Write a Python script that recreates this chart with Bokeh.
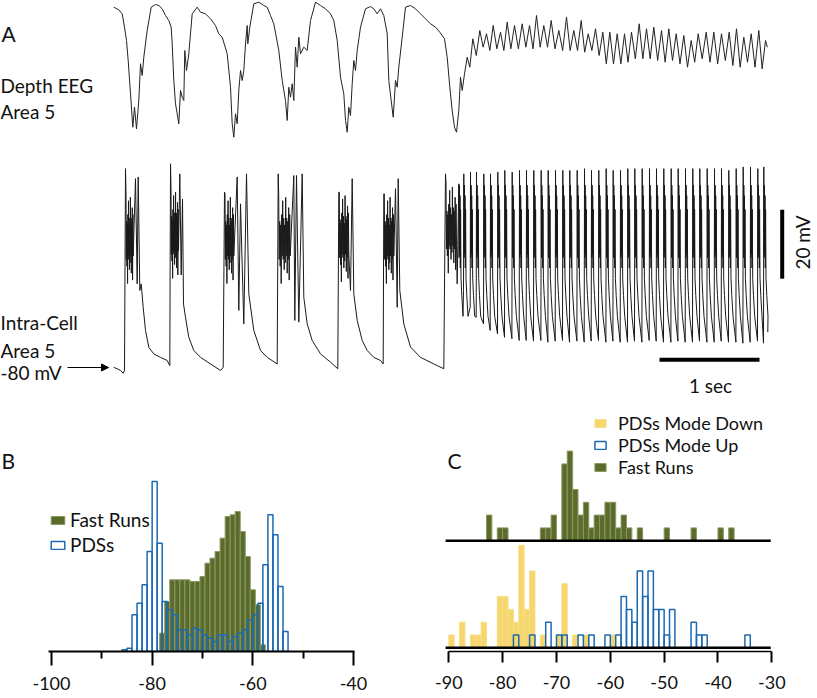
import math
from bokeh.plotting import figure
from bokeh.models import Range1d, Label, Arrow, NormalHead, Legend, LegendItem, FixedTicker
from bokeh.layouts import column, row
from bokeh.embed import file_html
from bokeh.resources import INLINE

FONT = "Lato"
INK = "#111111"
OLIVE = "#5B6B2B"
OLIVE_EDGE = "#8A9862"
GOLD = "#F5D76E"
GOLD_EDGE = "#F7DE88"
BLUE = "#1B6AB4"

# ---------------- Panel A: depth EEG (time in ms, potential in microvolts) ----------------
eeg_t = [3, 53, 87, 110, 130, 147, 170, 193, 210, 230, 253, 270, 287, 303, 337,
         377, 420, 453, 487, 520, 553, 577, 587, 603, 620, 637, 653, 670, 687, 703, 713, 730, 753, 787,
         837, 870, 920, 970, 1020, 1053, 1087, 1137, 1170, 1187, 1203, 1220, 1237, 1253, 1270, 1287, 1303, 1320, 1337, 1343, 1363,
         1403, 1453, 1503, 1537, 1570, 1603, 1653, 1687, 1720, 1737, 1753, 1770, 1787, 1803, 1820, 1837, 1853, 1870, 1903, 1937, 1970,
         2020, 2070, 2120, 2170, 2203, 2237, 2270, 2303, 2320, 2337, 2353, 2370, 2387, 2403, 2420, 2437, 2470,
         2520, 2570, 2603, 2637, 2670, 2703, 2737, 2753, 2777, 2797, 2810, 2820, 2837, 2853, 2887,
         2920, 2970, 3020, 3070, 3120, 3170, 3220, 3263, 3310, 3337, 3363, 3387, 3410, 3430, 3453, 3470, 3487, 3510, 3537, 3563]
eeg_v = [633, 607, 567, 433, 300, 100, -233, -567, -367, -583, -300, 67, -50, 133, 400,
         633, 660, 650, 617, 550, 500, 433, 267, -100, -333, -433, -533, -200, -267, -300, 200, 0, 167, 567,
         633, 583, 567, 517, 450, 367, 333, 167, -167, -533, -667, -433, -533, -200, 0, -100, 0, 267, 450, 267, 433,
         667, 683, 650, 633, 550, 467, 200, -100, -300, -500, -167, -267, -133, -300, 233, 33, 333, 167, 233, 200, 500,
         683, 650, 617, 567, 500, 300, -67, -233, -500, -617, -367, -450, -133, 100, 0, 200, 433,
         617, 640, 617, 567, 617, 550, 367, -100, -300, -467, -267, -100, -167, 33, 333,
         633, 650, 617, 567, 517, 467, 433, 383, 317, 133, -167, -400, -567, -617, -400, -67, -200, -33, 133, 33]
eeg_fast_t = [3593, 3663, 3730, 3797, 3870, 3937, 4010, 4087, 4160, 4230, 4303, 4377, 4453, 4530,
              4603, 4677, 4747, 4820, 4893, 4963, 5037, 5110, 5180, 5257, 5330, 5403, 5480, 5553,
              5627, 5703, 5777, 5847, 5927, 6003, 6080, 6157, 6230, 6303, 6377, 6453, 6520]
eeg_fast_peak = [317, 400, 367, 450, 383, 483, 450, 467, 450, 550, 450, 500, 400, 533,
                 400, 500, 367, 417, 383, 383, 367, 367, 383, 467, 417, 433, 400, 417,
                 367, 350, 300, 367, 383, 383, 367, 383, 417, 333, 367, 400, 300]
eeg_fast_trough = [150, 233, 200, 217, 200, 217, 217, 233, 217, 233, 233, 217, 200, 200,
                   200, 183, 200, 150, 67, 67, 67, 83, 117, 117, 117, 100, 83, 100,
                   67, 33, 83, 117, 83, 67, 100, 50, 33, 83, 33, 17, 233]

# ---------------- Panel A: intracellular membrane potential (ms, mV) ----------------
rest_t = [3, 37, 70, 97, 110]
rest_v = [-78.8, -79.2, -79.7, -80.5, -79.7]
pds_onset = [120, 570, 1110, 1647, 2253, 2703, 3320]
pds_peak = [-21.2, -19.8, -28.0, -22.7, -28.0, -28.5, -22.7]
pds_band_end = [197, 650, 1203, 1767, 2353, 2803, 3430]
pds_band_mid = [-41.5, -40.0, -41.5, -41.5, -41.0, -41.5, -38.5]
band_dev = [13, -6, 5, -8, 4, -13, 7, -5, 11, -6, 6, -9, 4, -7, 12, -5, 6, -10, 5, -6, 9, -12, 7, -5]
pds_tail_t = [
    [220, 237, 247, 263, 277, 297, 320, 353, 403, 470, 537, 563],
    [663, 677, 690, 700, 720, 753, 803, 870, 970, 1070, 1097],
    [1237, 1253, 1270, 1303, 1330, 1353, 1403, 1470, 1537, 1637],
    [1803, 1813, 1830, 1853, 1887, 1903, 1937, 1987, 2070, 2170, 2243],
    [2370, 2387, 2403, 2437, 2487, 2537, 2603, 2670, 2697],
    [2820, 2837, 2847, 2863, 2903, 2970, 3070, 3203, 3303],
    [3437],
]
pds_tail_v = [
    [-24.1, -54.6, -23.6, -56.5, -54.6, -61.4, -68.1, -73.0, -74.9, -75.9, -76.8, -78.3],
    [-22.7, -52.0, -30.0, -60.4, -64.3, -70.1, -73.9, -75.9, -77.8, -79.7, -78.8],
    [-23.6, -62.3, -31.4, -66.2, -22.7, -57.5, -68.1, -73.9, -75.9, -77.8],
    [-23.2, -65.2, -23.2, -65.7, -22.7, -58.5, -66.2, -71.0, -74.9, -77.3, -79.2],
    [-56.5, -24.1, -57.5, -65.2, -71.0, -73.9, -75.9, -76.8, -77.8],
    [-27.0, -61.4, -24.1, -56.5, -66.2, -72.9, -75.9, -77.8, -79.2],
    [-54.6],
]
fast_t = [3453, 3503, 3570, 3630, 3703, 3770, 3843, 3913, 3987, 4060, 4130, 4203, 4277, 4347,
          4420, 4493, 4563, 4637, 4710, 4780, 4853, 4927, 4997, 5070, 5143, 5213, 5287, 5360,
          5430, 5503, 5577, 5647, 5720, 5793, 5863, 5937, 6010, 6080, 6153, 6227, 6297, 6370,
          6443, 6503]
fast_peak = [-25.6, -22.7, -22.2, -22.2, -22.7, -22.7, -22.2, -21.7, -22.2, -21.7, -21.7, -21.7, -21.7, -21.7,
             -21.7, -21.7, -21.7, -21.7, -21.2, -21.7, -21.7, -21.2, -21.7, -21.7, -21.2, -21.2, -21.2, -21.2,
             -21.2, -21.2, -21.2, -21.2, -21.2, -21.2, -21.2, -21.2, -21.2, -21.2, -21.7, -21.2, -20.7, -20.7,
             -21.2, -20.7]
fast_trough = [-56.5, -61.4, -64.3, -66.2, -68.1, -69.1, -70.1, -70.5, -71.0, -71.0, -71.2, -71.0, -71.5, -71.2,
               -71.0, -71.5, -71.2, -71.5, -71.2, -71.0, -71.5, -71.2, -71.5, -71.5, -71.2, -71.5, -71.0, -71.2,
               -71.5, -71.5, -71.2, -71.5, -71.5, -71.2, -71.5, -71.5, -71.2, -71.5, -71.5, -71.8, -71.5, -71.2,
               -71.8, -68.6]
fast_inner_dt = [3, 6, 9, 12, 15, 18, 22, 30, 42]
fast_inner_v = [-47, -26, -46, -29, -50, -33, -53, -58, -64]

scale_ms = 1000
scale_mv = 20

# ---------------- Panel B ----------------
b_pds_bins = [-86, -85, -84, -83, -82, -81, -80, -79, -78, -77, -76, -75, -74, -73, -72, -71, -70,
              -69, -68, -67, -66, -65, -64, -63, -62, -61, -60, -59, -58, -57, -56, -55, -54]
b_pds_counts = [1, 2, 22, 29, 40, 60, 102, 65, 30, 25, 22, 13, 13, 10, 14, 13, 10,
                8, 6, 10, 10, 6, 9, 11, 13, 19, 22, 29, 52, 82, 70, 39, 12]
b_fast_centers = [-78, -77, -76, -75, -74, -73, -72, -71, -70, -69, -68, -67, -66, -65, -64,
                  -63, -62, -61, -60, -59, -58]
b_fast_counts = [11, 30, 43, 43, 43, 43, 42, 42, 45, 53, 56, 60, 68, 81, 82, 84, 72, 57, 37, 28, 4]
b_ticks = [-100, -80, -60, -40]
b_minor_ticks = [-90, -70, -50]

# ---------------- Panel C ----------------
c_fast_bins = [-83, -81, -80, -73, -72, -71, -69, -68, -67, -66, -65, -64, -63, -62, -61, -60,
               -59, -58, -57, -55, -50, -45, -40, -38]
c_fast_counts = [2, 1, 1, 1, 1, 2, 6, 7, 4, 2, 3, 1, 2, 2, 3, 3, 1, 2, 1, 1, 1, 1, 1, 1]
c_down_bins = [-90, -88, -86, -85, -84, -81, -80, -79, -78, -77, -76, -75, -73, -70, -69, -67, -65, -60]
c_down_counts = [1, 2, 1, 1, 2, 4, 4, 3, 2, 8, 3, 6, 1, 1, 5, 1, 1, 1]
c_up_bins = [-78, -75, -72, -70, -69, -66, -64, -61, -59, -58, -57, -56, -55, -54, -53, -52,
             -51, -50, -49, -45, -44, -43, -35]
c_up_counts = [1, 1, 2, 1, 1, 1, 1, 1, 1, 4, 3, 2, 6, 4, 6, 3, 3, 1, 3, 2, 1, 1, 1]
c_ticks = [-90, -80, -70, -60, -50, -40, -30]

# ---------------- build traces ----------------
eeg_all_t = list(eeg_t)
eeg_all_v = list(eeg_v)
nf = len(eeg_fast_t)
for k in range(nf):
    eeg_all_t.append(eeg_fast_t[k])
    eeg_all_v.append(eeg_fast_peak[k])
    t_next = eeg_fast_t[k + 1] if k + 1 < nf else eeg_fast_t[k] + 36
    eeg_all_t.append((eeg_fast_t[k] + t_next) / 2)
    eeg_all_v.append(eeg_fast_trough[k])

vm_t = list(rest_t)
vm_v = list(rest_v)
nb = len(band_dev)
for i, t0 in enumerate(pds_onset):
    vm_t.append(t0)
    vm_v.append(pds_peak[i])
    b0 = t0 + 5
    b1 = pds_band_end[i]
    for j, d in enumerate(band_dev):
        vm_t.append(b0 + (b1 - b0) * j / (nb - 1))
        vm_v.append(pds_band_mid[i] + d)
    vm_t += pds_tail_t[i]
    vm_v += pds_tail_v[i]
for k, tk in enumerate(fast_t):
    vm_t.append(tk)
    vm_v.append(fast_peak[k])
    for dt, v in zip(fast_inner_dt, fast_inner_v):
        vm_t.append(tk + dt)
        vm_v.append(v)
    t_end = fast_t[k + 1] - 3 if k + 1 < len(fast_t) else tk + 40
    vm_t.append(t_end)
    vm_v.append(fast_trough[k])


def lab(p, text, x, y, size, align="left", baseline="alphabetic", angle=0.0):
    p.add_layout(Label(x=x, y=y, x_range_name="px", y_range_name="py", text=text,
                       text_font=FONT, text_font_size=f"{size}px", text_color=INK,
                       text_align=align, text_baseline=baseline, angle=angle))


def style_axis(ax, ticks, minor, bounds, tick_out, minor_out, line_w, standoff):
    ax.ticker = FixedTicker(ticks=ticks, minor_ticks=minor)
    ax.bounds = bounds
    ax.major_label_overrides = {t: str(t) for t in ticks}
    ax.axis_line_width = line_w
    ax.axis_line_color = "black"
    ax.major_tick_line_width = 2
    ax.minor_tick_line_width = 2
    ax.major_tick_out = tick_out
    ax.major_tick_in = 0
    ax.minor_tick_out = minor_out
    ax.minor_tick_in = 0
    ax.major_label_standoff = standoff
    ax.major_label_text_font = FONT
    ax.major_label_text_font_size = "18px"
    ax.major_label_text_line_height = 0.5
    ax.major_label_text_color = INK


def add_key(p, label, renderer, loc, gw, standoff, size):
    # one legend entry per row so each row sits where the reference places it
    p.add_layout(Legend(items=[LegendItem(label=label, renderers=[renderer])], location=loc,
                        glyph_width=gw, glyph_height=10, label_height=20, spacing=0, padding=0,
                        margin=0, border_line_color=None, background_fill_alpha=0,
                        label_standoff=standoff, label_text_font=FONT,
                        label_text_font_size=f"{size}px", label_text_color=INK))


# ---------------- Figure A ----------------
pa = figure(width=817, height=408, x_range=Range1d(-1130, 7040), y_range=Range1d(-3380, 700),
            x_axis_type=None, y_axis_type=None, output_backend="svg", toolbar_location=None,
            min_border=0, outline_line_color=None)
pa.extra_y_ranges = {"vm": Range1d(-90.72, 27.54), "py": Range1d(408, 0)}
pa.extra_x_ranges = {"px": Range1d(0, 817)}

pa.line(eeg_all_t, eeg_all_v, line_color="#222222", line_width=1)
pa.line(vm_t, vm_v, y_range_name="vm", line_color="#1a1a1a", line_width=1)

sb_t0, sb_v = 5460, -76.6
vb_t, vb_v0 = 6687, -53.1
pa.line([sb_t0, sb_t0 + scale_ms], [sb_v, sb_v], y_range_name="vm", line_width=4, line_color="black")
pa.line([vb_t, vb_t], [vb_v0, vb_v0 + scale_mv], y_range_name="vm", line_width=4, line_color="black")

lab(pa, "A", 1, 33, 21)
lab(pa, "Depth EEG", 0, 85, 19)
lab(pa, "Area 5", 0, 111, 19)
lab(pa, "Intra-Cell", 0, 321.5, 19)
lab(pa, "Area 5", 0, 349.5, 19)
lab(pa, "-80 mV", 0, 371.5, 19)
lab(pa, "20 mV", 802, 242, 19, align="center", baseline="middle", angle=math.pi / 2)
lab(pa, "1 sec", 710, 385, 19, align="center")
pa.add_layout(Arrow(end=NormalHead(size=7, fill_color="black", line_color="black"),
                    x_start=67, y_start=367, x_end=108, y_end=367,
                    x_range_name="px", y_range_name="py", line_width=1.2, line_color="black"))

# ---------------- Figure B ----------------
pb = figure(width=410, height=290, x_range=Range1d(-110.13, -28.67), y_range=Range1d(0, 145.8),
            y_axis_type=None, output_backend="svg", toolbar_location=None,
            min_border_left=0, min_border_right=0, min_border_top=0, min_border_bottom=47,
            outline_line_color=None)
pb.grid.visible = False
pb.extra_x_ranges = {"px": Range1d(0, 410)}
pb.extra_y_ranges = {"py": Range1d(651, 408)}

g_b = pb.quad(left=[c - 0.5 for c in b_fast_centers], right=[c + 0.5 for c in b_fast_centers],
              bottom=0, top=b_fast_counts, fill_color=OLIVE, line_color=OLIVE_EDGE, line_width=1)
p_b = pb.quad(left=b_pds_bins, right=[e + 1 for e in b_pds_bins], bottom=0, top=b_pds_counts,
              fill_alpha=0, line_color=BLUE, line_width=1.5)

style_axis(pb.xaxis[0], b_ticks, b_minor_ticks, (-100.6, -39.8), 14, 7, 2, 11)

add_key(pb, "Fast Runs", g_b, (49, 120), 17, 4, 19)
add_key(pb, "PDSs", p_b, (49, 95), 17, 4, 19)
lab(pb, "B", 1, 460, 21)

# ---------------- Figure C ----------------
pc = figure(width=407, height=290, x_range=Range1d(-97.12, -21.51), y_range=Range1d(-0.29, 18.70),
            y_axis_type=None, output_backend="svg", toolbar_location=None,
            min_border_left=0, min_border_right=0, min_border_top=0, min_border_bottom=46,
            outline_line_color=None)
pc.grid.visible = False
pc.extra_x_ranges = {"px": Range1d(410, 817)}
pc.extra_y_ranges = {"top": Range1d(-8.66, 10.33), "py": Range1d(652, 408)}

f_c = pc.quad(left=c_fast_bins, right=[e + 1 for e in c_fast_bins], bottom=0, top=c_fast_counts,
              y_range_name="top", fill_color=OLIVE, line_color=OLIVE_EDGE, line_width=1)
d_c = pc.quad(left=c_down_bins, right=[e + 1 for e in c_down_bins], bottom=0, top=c_down_counts,
              fill_color=GOLD, line_color=GOLD_EDGE, line_width=1)
u_c = pc.quad(left=c_up_bins, right=[e + 1 for e in c_up_bins], bottom=0, top=c_up_counts,
              fill_alpha=0, line_color=BLUE, line_width=1.5)
c_lo, c_hi = -90.6, -30.2
pc.line([c_lo, c_hi], [0, 0], line_width=2.5, line_color="black")
pc.line([c_lo, c_hi], [0, 0], y_range_name="top", line_width=2.5, line_color="black")

style_axis(pc.xaxis[0], c_ticks, [], (-90, -30), 11, 0, 1.5, 13)

add_key(pc, "PDSs Mode Down", d_c, (183, 217), 14, 11, 18)
add_key(pc, "PDSs Mode Up", u_c, (183, 195), 14, 11, 18)
add_key(pc, "Fast Runs", f_c, (183, 173), 14, 11, 18)
lab(pc, "C", 447, 460, 21)

layout = column(pa, row(pb, pc, spacing=0), spacing=0)
open("out.html", "w").write(file_html(layout, INLINE))
